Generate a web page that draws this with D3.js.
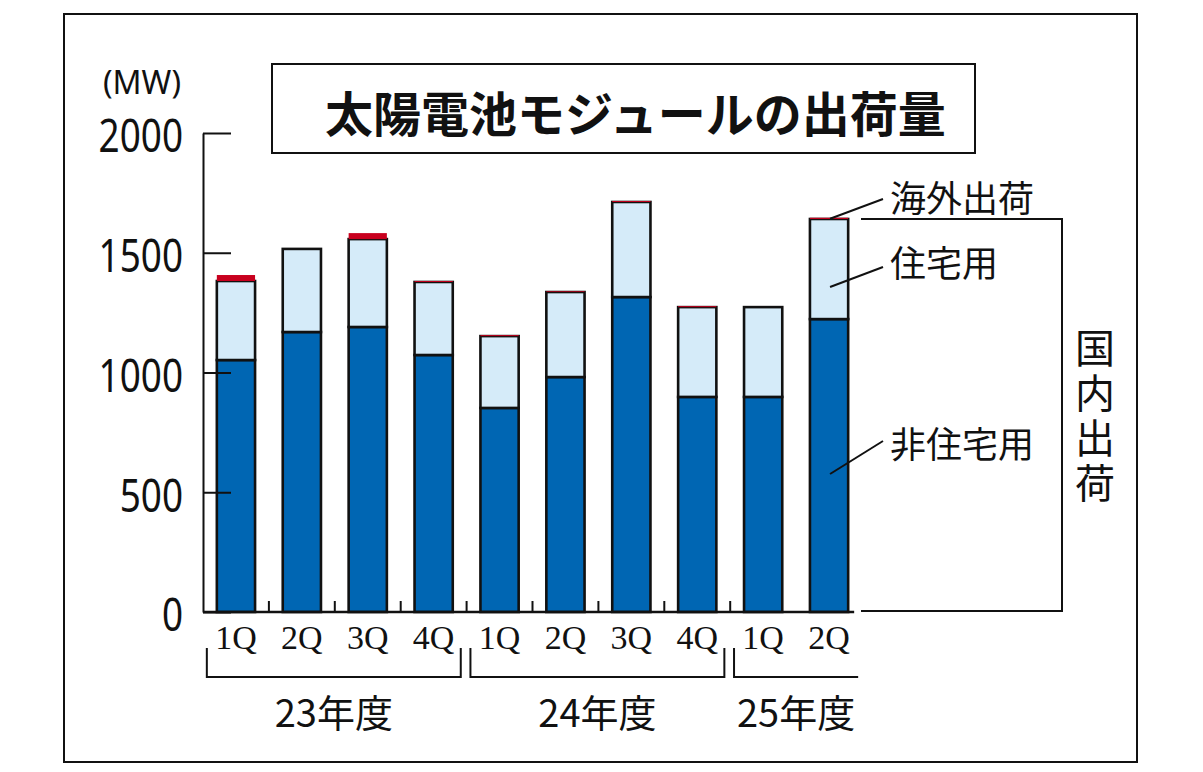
<!DOCTYPE html>
<html>
<head>
<meta charset="utf-8">
<script src="https://cdn.jsdelivr.net/npm/d3@7"></script>
<style>
  body { margin: 0; background: #fff; }
  svg { display: block; }
  text { fill: #111; }
</style>
</head>
<body>
<svg id="chart" width="1203" height="772"></svg>
<script>
// quarterly shipments (MW)
var quarters    = ["1Q", "2Q", "3Q", "4Q", "1Q", "2Q", "3Q", "4Q", "1Q", "2Q"];
var years       = ["23", "23", "23", "23", "24", "24", "24", "24", "25", "25"];
var nonResident = [1052, 1169, 1190, 1073, 852, 981, 1315, 898, 898, 1223];
var resident    = [330, 347, 367, 305, 300, 355, 397, 375, 375, 418];
var overseas    = [25, 0, 25, 4, 4, 3, 4, 4, 0, 5];

var yTicks      = [0, 500, 1000, 1500, 2000];
var yearLabels  = ["23年度", "24年度", "25年度"];
var yearFirst   = [0, 4, 8];
var yearLast    = [3, 7, 9];

var colors = { nonResident: "#0066b3", resident: "#d5ebf9", overseas: "#c8001e" };

var svg = d3.select("#chart");
var jp = "'Noto Sans CJK JP', 'Noto Sans', sans-serif";

var rows = quarters.map(function (q, i) {
  return { key: years[i] + "-" + q, nonResident: nonResident[i], resident: resident[i], overseas: overseas[i] };
});

var x = d3.scaleBand()
  .domain(rows.map(function (d) { return d.key; }))
  .range([203, 862])
  .paddingInner(0.42)
  .paddingOuter(0.21);

var y = d3.scaleLinear().domain([0, 2000]).range([612, 133]);
var bw = x.bandwidth();

// outer frame
svg.append("rect")
  .attr("x", 64).attr("y", 14).attr("width", 1073).attr("height", 748)
  .attr("fill", "none").attr("stroke", "#111").attr("stroke-width", 2);

// title box
svg.append("rect")
  .attr("x", 272).attr("y", 64).attr("width", 703).attr("height", 89)
  .attr("fill", "none").attr("stroke", "#111").attr("stroke-width", 2);
svg.append("text")
  .attr("x", 325).attr("y", 111)
  .attr("dominant-baseline", "central")
  .style("font-family", jp).style("font-weight", 700).style("font-size", "48px")
  .text("太陽電池モジュールの出荷量");

// unit
svg.append("text")
  .attr("x", 142).attr("y", 94)
  .attr("text-anchor", "middle")
  .style("font-family", "'Noto Sans', sans-serif").style("font-size", "32px")
  .text("(MW)");

// stacked bars
var series = d3.stack().keys(["nonResident", "resident", "overseas"])(rows);

svg.append("g").selectAll("g")
  .data(series)
  .join("g")
  .attr("fill", function (s) { return colors[s.key]; })
  .attr("stroke", function (s) { return s.key === "overseas" ? "none" : "#111"; })
  .attr("stroke-width", 2.6)
  .selectAll("rect")
  .data(function (s) { return s; })
  .join("rect")
  .attr("x", function (d) { return x(d.data.key); })
  .attr("y", function (d) { return y(d[1]); })
  .attr("width", bw)
  .attr("height", function (d) { return y(d[0]) - y(d[1]); });

// y axis, ticks turned inwards
var yAxis = svg.append("g")
  .attr("transform", "translate(203,0)")
  .call(d3.axisLeft(y).tickValues(yTicks).tickFormat(d3.format("d"))
    .tickSizeInner(-28).tickSizeOuter(0).tickPadding(0));
yAxis.selectAll("path, line").attr("stroke", "#111").attr("stroke-width", 2);
yAxis.selectAll("text")
  .attr("x", null).attr("dy", "0.42em")
  .attr("transform", "translate(-20,0) scale(0.82,1)")
  .style("font-family", "'Noto Sans', sans-serif").style("font-size", "45px")
  .style("fill", "#111");

// baseline and the little ticks between quarters
var lastKey = rows[rows.length - 1].key;
svg.append("line")
  .attr("x1", 203).attr("x2", x(lastKey) + bw + 6)
  .attr("y1", y(0)).attr("y2", y(0))
  .attr("stroke", "#111").attr("stroke-width", 2.5);

var gaps = d3.range(1, rows.length - 1);
svg.append("g").selectAll("line")
  .data(gaps)
  .join("line")
  .attr("x1", function (i) { return (x(rows[i - 1].key) + bw + x(rows[i].key)) / 2; })
  .attr("x2", function (i) { return (x(rows[i - 1].key) + bw + x(rows[i].key)) / 2; })
  .attr("y1", y(0)).attr("y2", y(0) - 11)
  .attr("stroke", "#111").attr("stroke-width", 2);

// quarter labels
svg.append("g").selectAll("text")
  .data(rows)
  .join("text")
  .attr("x", function (d) { return x(d.key) + bw / 2; })
  .attr("y", 649)
  .attr("text-anchor", "middle")
  .style("font-family", "'Liberation Serif', serif").style("font-size", "34px")
  .text(function (d, i) { return quarters[i]; });

// fiscal year brackets
yearLabels.forEach(function (lab, k) {
  var x0 = x(rows[yearFirst[k]].key) - 10;
  var closed = yearLast[k] < rows.length - 1 && yearLast[k] - yearFirst[k] === 3;
  var x1 = x(rows[yearLast[k]].key) + bw + (closed ? 8 : 10);
  var p = "M" + x0 + ",648V677H" + x1 + (closed ? "V648" : "");
  svg.append("path").attr("d", p)
    .attr("fill", "none").attr("stroke", "#111").attr("stroke-width", 2);
  svg.append("text")
    .attr("x", (x0 + x1) / 2).attr("y", 727)
    .attr("text-anchor", "middle")
    .style("font-family", jp).style("font-size", "38px")
    .text(lab);
});

// bracket for domestic shipments of the latest quarter
var last = rows[rows.length - 1];
var domTop = y(last.nonResident + last.resident);
svg.append("path")
  .attr("d", "M861," + domTop + "H1062V" + (y(0) - 1) + "H861")
  .attr("fill", "none").attr("stroke", "#111").attr("stroke-width", 2);

var domMid = (domTop + y(0)) / 2;
svg.append("text")
  .attr("x", 1095).attr("y", domMid + 2)
  .attr("text-anchor", "middle")
  .style("writing-mode", "vertical-rl")
  .style("letter-spacing", "5px")
  .style("font-family", jp).style("font-size", "40px")
  .text("国内出荷");

// callouts on the last bar
var cx = x(lastKey) + bw / 2;
var callouts = [
  { text: "海外出荷", y0: y(last.nonResident + last.resident + last.overseas) + 1, y1: 199, ty: 196 },
  { text: "住宅用",   y0: 287, y1: 267, ty: 261 },
  { text: "非住宅用", y0: 474, y1: 441, ty: 442 }
];
callouts.forEach(function (c) {
  svg.append("line")
    .attr("x1", cx + 1).attr("y1", c.y0)
    .attr("x2", 883).attr("y2", c.y1)
    .attr("stroke", "#111").attr("stroke-width", 2);
  svg.append("text")
    .attr("x", 890).attr("y", c.ty)
    .attr("dominant-baseline", "central")
    .style("font-family", jp).style("font-size", "36px")
    .text(c.text);
});
</script>
</body>
</html>
